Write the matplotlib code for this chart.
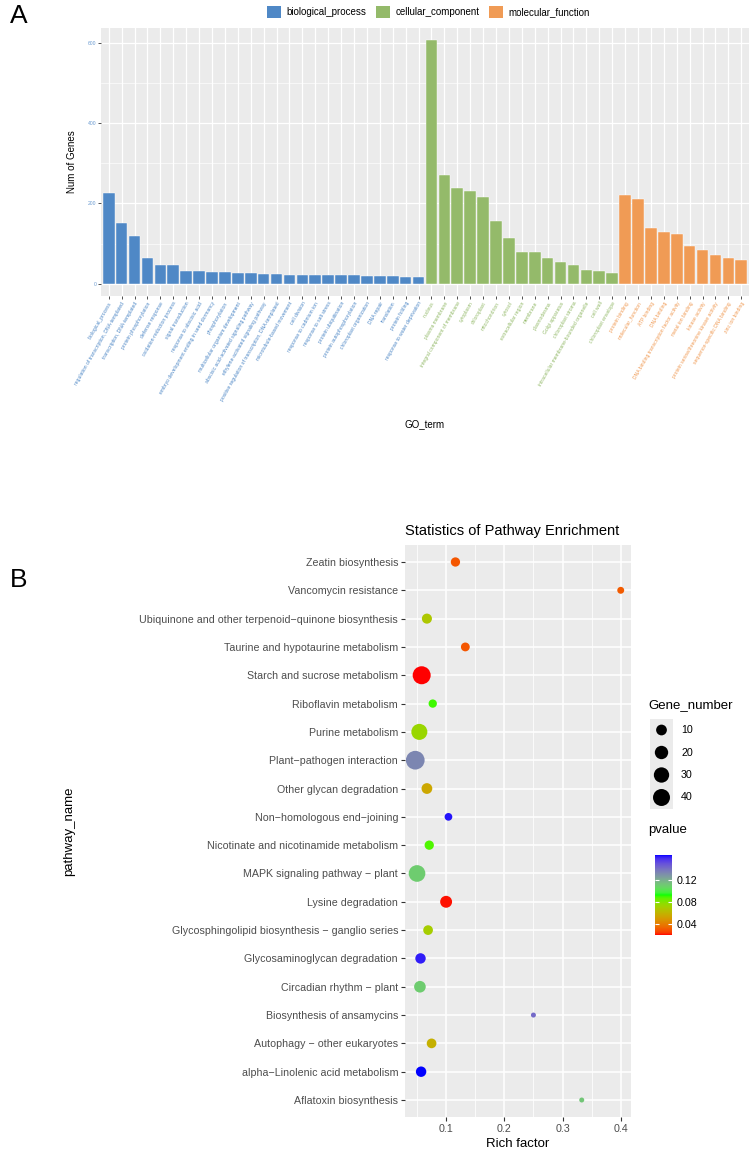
import numpy as np
import matplotlib
matplotlib.use('Agg')
import matplotlib.pyplot as plt
from matplotlib.patches import Patch, Rectangle
from matplotlib.colors import ListedColormap, Normalize, to_rgb
from matplotlib.ticker import MultipleLocator
from matplotlib.cm import ScalarMappable

plt.rcParams['font.family'] = ['Liberation Sans', 'DejaVu Sans']

# ---- panel A data (GO terms) ----
bp_terms = ['biological_process', 'regulation of transcription, DNA-templated',
            'transcription, DNA-templated', 'protein phosphorylation', 'defense response',
            'oxidation-reduction process', 'signal transduction', 'response to abscisic acid',
            'embryo development ending in seed dormancy', 'phosphorylation',
            'multicellular organism development', 'abscisic acid-activated signaling pathway',
            'ethylene-activated signaling pathway',
            'positive regulation of transcription, DNA-templated', 'microtubule-based movement',
            'cell division', 'response to cadmium ion', 'response to salt stress',
            'protein ubiquitination', 'protein autophosphorylation', 'chloroplast organization',
            'DNA repair', 'translation', 'protein folding', 'response to water deprivation']
bp_counts = [227, 152, 119, 63, 47, 46, 33, 31, 30, 29, 27, 26, 25, 24, 23,
             23, 22, 22, 21, 21, 20, 20, 19, 18, 17]

cc_terms = ['nucleus', 'plasma membrane', 'integral component of membrane', 'cytoplasm',
            'chloroplast', 'mitochondrion', 'cytosol', 'extracellular region', 'membrane',
            'plasmodesma', 'Golgi apparatus', 'chloroplast stroma',
            'intracellular membrane-bounded organelle', 'cell wall', 'chloroplast envelope']
cc_counts = [606, 270, 238, 232, 217, 156, 114, 80, 80, 63, 54, 47, 35, 33, 28]

mf_terms = ['protein binding', 'molecular_function', 'ATP binding', 'DNA binding',
            'DNA binding transcription factor activity', 'metal ion binding', 'kinase activity',
            'protein serine/threonine kinase activity', 'sequence-specific DNA binding',
            'zinc ion binding']
mf_counts = [220, 210, 139, 130, 125, 95, 84, 71, 63, 58]

go_groups = ['biological_process', 'cellular_component', 'molecular_function']
go_colors = ['#4F88C6', '#94BA6A', '#F09B55']

# ---- panel B data (KEGG enrichment), listed top to bottom ----
pathways = ['Zeatin biosynthesis', 'Vancomycin resistance',
            'Ubiquinone and other terpenoid\u2212quinone biosynthesis',
            'Taurine and hypotaurine metabolism', 'Starch and sucrose metabolism',
            'Riboflavin metabolism', 'Purine metabolism', 'Plant\u2212pathogen interaction',
            'Other glycan degradation', 'Non\u2212homologous end\u2212joining',
            'Nicotinate and nicotinamide metabolism', 'MAPK signaling pathway \u2212 plant',
            'Lysine degradation', 'Glycosphingolipid biosynthesis \u2212 ganglio series',
            'Glycosaminoglycan degradation', 'Circadian rhythm \u2212 plant',
            'Biosynthesis of ansamycins', 'Autophagy \u2212 other eukaryotes',
            'alpha\u2212Linolenic acid metabolism', 'Aflatoxin biosynthesis']
rich_factor = [0.116, 0.400, 0.067, 0.133, 0.058, 0.077, 0.054, 0.047, 0.067, 0.104,
               0.071, 0.050, 0.100, 0.069, 0.056, 0.055, 0.250, 0.075, 0.057, 0.333]
gene_number = [6, 2, 8, 5, 47, 4, 34, 52, 10, 3, 6, 38, 14, 7, 9, 13, 1, 7, 9, 1]
pvalue = [0.030, 0.031, 0.068, 0.030, 0.020, 0.090, 0.074, 0.133, 0.055, 0.163,
          0.088, 0.110, 0.021, 0.070, 0.162, 0.110, 0.142, 0.058, 0.165, 0.112]
size_breaks = [10, 20, 30, 40]
p_breaks = [0.04, 0.08, 0.12]

W, H = 749, 1149


def box(l, t, r, b):
    return [l / W, 1 - b / H, (r - l) / W, (b - t) / H]


# ggplot-like colour ramp red -> green -> blue interpolated in CIELAB
M = np.array([[0.4124, 0.3576, 0.1805], [0.2126, 0.7152, 0.0722], [0.0193, 0.1192, 0.9505]])
WHITE = np.array([0.95047, 1.0, 1.08883])


def to_lab(c):
    rgb = np.array(to_rgb(c))
    lin = np.where(rgb <= 0.04045, rgb / 12.92, ((rgb + 0.055) / 1.055) ** 2.4)
    t = M @ lin / WHITE
    f = np.where(t > (6 / 29) ** 3, np.cbrt(t), t / (3 * (6 / 29) ** 2) + 4 / 29)
    return np.array([116 * f[1] - 16, 500 * (f[0] - f[1]), 200 * (f[1] - f[2])])


def from_lab(lab):
    fy = (lab[0] + 16) / 116
    f = np.array([fy + lab[1] / 500, fy, fy - lab[2] / 200])
    xyz = np.where(f > 6 / 29, f ** 3, 3 * (6 / 29) ** 2 * (f - 4 / 29)) * WHITE
    lin = np.clip(np.linalg.solve(M, xyz), 0, None)
    rgb = np.where(lin <= 0.0031308, 12.92 * lin, 1.055 * lin ** (1 / 2.4) - 0.055)
    return np.clip(rgb, 0, 1)


ramp = [to_lab(c) for c in ['#FF0000', '#00FF00', '#0000FF']]
cols = []
for t in np.linspace(0, 1, 256):
    i = 0 if t < 0.5 else 1
    u = t * 2 - i
    cols.append(from_lab(ramp[i] * (1 - u) + ramp[i + 1] * u))
cmap = ListedColormap(cols)

fig = plt.figure(figsize=(W / 100, H / 100), dpi=100)

# ================= panel A =================
ax1 = fig.add_axes(box(101, 28, 749, 296))
terms = bp_terms + cc_terms + mf_terms
counts = np.array(bp_counts + cc_counts + mf_counts)
colors = ([go_colors[0]] * len(bp_terms) + [go_colors[1]] * len(cc_terms)
          + [go_colors[2]] * len(mf_terms))
x = np.arange(len(terms))
ax1.bar(x, counts, width=0.9, color=colors, edgecolor='white', linewidth=0.3, zorder=2)
ax1.set_xlim(-0.6, len(terms) - 0.4)
ax1.set_ylim(-0.05 * counts.max(), 1.05 * counts.max())
ax1.set_facecolor('#EBEBEB')
for s in ax1.spines.values():
    s.set_visible(False)
ax1.set_yticks([0, 200, 400, 600])
ax1.yaxis.set_minor_locator(MultipleLocator(100))
ax1.grid(which='major', color='white', linewidth=0.9)
ax1.grid(which='minor', axis='y', color='white', linewidth=0.45)
ax1.set_axisbelow(True)
ax1.set_xticks(x)
ax1.set_xticklabels(terms, rotation=60, ha='right', rotation_mode='anchor', fontsize=3.6)
for lbl, c in zip(ax1.get_xticklabels(), colors):
    lbl.set_color(c)
ax1.tick_params(axis='both', which='major', length=2, width=0.6, color='#333333', pad=1.5)
ax1.tick_params(axis='y', labelsize=3.6, labelcolor='#6A9BD1')
ax1.tick_params(which='minor', length=0)
ax1.set_ylabel('Num of Genes', fontsize=7)
ax1.yaxis.set_label_coords(-0.037, 0.5)
ax1.set_xlabel('GO_term', fontsize=7)
ax1.xaxis.set_label_coords(0.5, (296 - 419) / 268)

handles = [Patch(facecolor=c, edgecolor='none', label=g) for g, c in zip(go_groups, go_colors)]
fig.legend(handles=handles, loc='center', bbox_to_anchor=(428.5 / W, 1 - 12 / H), ncol=3,
           frameon=False, fontsize=7, handlelength=1.4, handleheight=1.4,
           handletextpad=0.6, columnspacing=1.0)

fig.text(10 / W, 1 - 4 / H, 'A', fontsize=19, va='top', ha='left')
fig.text(10 / W, 1 - 568 / H, 'B', fontsize=19, va='top', ha='left')

# ================= panel B =================
ax2 = fig.add_axes(box(405, 545, 631, 1117))
n = len(pathways)
ypos = np.arange(n)[::-1]
gmin, gmax = min(gene_number), max(gene_number)


def dot_pt2(g):
    px = 5 + 13.7 * np.sqrt((np.asarray(g, float) - gmin) / (gmax - gmin))
    return (px * 0.72) ** 2


norm = Normalize(vmin=min(pvalue), vmax=max(pvalue))
ax2.scatter(rich_factor, ypos, s=dot_pt2(gene_number), c=pvalue, cmap=cmap, norm=norm,
            edgecolors='none', zorder=3)
rf = np.array(rich_factor)
pad = 0.05 * (rf.max() - rf.min())
ax2.set_xlim(rf.min() - pad, rf.max() + pad)
ax2.set_ylim(-0.6, n - 0.4)
ax2.set_yticks(ypos)
ax2.set_yticklabels(pathways)
ax2.set_xticks([0.1, 0.2, 0.3, 0.4])
ax2.set_xticklabels(['0.1', '0.2', '0.3', '0.4'])
ax2.xaxis.set_minor_locator(MultipleLocator(0.05))
ax2.set_facecolor('#EBEBEB')
for s in ax2.spines.values():
    s.set_visible(False)
ax2.grid(which='major', color='white', linewidth=1.1)
ax2.grid(which='minor', axis='x', color='white', linewidth=0.55)
ax2.set_axisbelow(True)
ax2.tick_params(which='major', length=3, width=0.8, color='#333333', labelsize=7.7,
                labelcolor='#4D4D4D', pad=2)
ax2.tick_params(which='minor', length=0)
ax2.set_title('Statistics of Pathway Enrichment', loc='left', fontsize=10.5, pad=7)
ax2.set_xlabel('Rich factor', fontsize=9.5, labelpad=3)
ax2.set_ylabel('pathway_name', fontsize=9.5)
ax2.yaxis.set_label_coords((75 - 405) / 226, 0.5)

# size legend drawn in a pixel-coordinate overlay
lax = fig.add_axes([0, 0, 1, 1], zorder=-1)
lax.set_xlim(0, W)
lax.set_ylim(H, 0)
lax.axis('off')
lax.text(648, 705, 'Gene_number', fontsize=9.5, va='center', ha='left')
for i, g in enumerate(size_breaks):
    yc = 730 + i * 22.5
    lax.add_patch(Rectangle((650, yc - 11.25), 23, 22.5, facecolor='#EBEBEB', edgecolor='none'))
    lax.scatter([661.5], [yc], s=dot_pt2(g), color='black', edgecolors='none')
    lax.text(681, yc, str(g), fontsize=7.7, va='center', ha='left')
lax.text(648, 830, 'pvalue', fontsize=9.5, va='center', ha='left')

cax = fig.add_axes(box(655, 855, 672, 935))
sm = ScalarMappable(norm=norm, cmap=cmap)
cb = fig.colorbar(sm, cax=cax)
cb.outline.set_visible(False)
cb.set_ticks(p_breaks)
cb.set_ticklabels(['0.04', '0.08', '0.12'])
cax.tick_params(direction='in', length=3, width=0.8, color='white', labelsize=7.7,
                left=True, right=True, pad=3)

fig.savefig('out.png', dpi=100)
